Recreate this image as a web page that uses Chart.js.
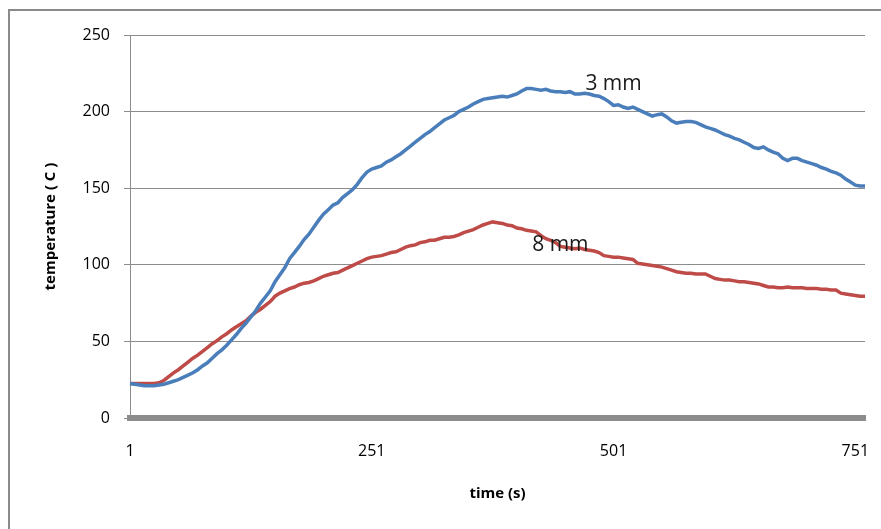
<!DOCTYPE html>
<html><head><meta charset="utf-8">
<script src="https://cdn.jsdelivr.net/npm/chart.js@4/dist/chart.umd.min.js"></script>
<style>html,body{margin:0;padding:0;background:#fff}#wrap{width:881px;height:529px}</style>
</head><body><div id="wrap"><canvas id="c" width="881" height="529"></canvas></div>
<script>
// time (s), sampled every 5 s
const times = [
  1,6,11,16,21,26,31,36,41,46,
  51,56,61,66,71,76,81,86,91,96,
  101,106,111,116,121,126,131,136,141,146,
  151,156,161,166,171,176,181,186,191,196,
  201,206,211,216,221,226,231,236,241,246,
  251,256,261,266,271,276,281,286,291,296,
  301,306,311,316,321,326,331,336,341,346,
  351,356,361,366,371,376,381,386,391,396,
  401,406,411,416,421,426,431,436,441,446,
  451,456,461,466,471,476,481,486,491,496,
  501,506,511,516,521,526,531,536,541,546,
  551,556,561,566,571,576,581,586,591,596,
  601,606,611,616,621,626,631,636,641,646,
  651,656,661,666,671,676,681,686,691,696,
  701,706,711,716,721,726,731,736,741,746,
  751,756,761
];
const tickLabels = [1, 251, 501, 751];

// temperature (C), 3 mm
const temp3mm = [
  22.5,22,21.5,21,21,21,21.5,22,23,24,
  25,26.5,28,29.5,31.5,34,36,39,42,44.5,
  47.5,51,54.5,58.5,62,66,70,75,79,83,
  89,93.5,98,104,108,112,116.5,120,124.5,129,
  133,136,139,140.5,144,146.5,149,152.5,157,160.5,
  162.5,163.5,164.5,167,168.5,170.5,172.5,175,177.5,180,
  182.5,185,187,189.5,192,194.5,196,197.5,200,201.5,
  203,205,206.5,208,208.5,209,209.5,210,209.5,210.5,
  211.5,213.5,215,215,214.5,214,214.5,213.5,213,213,
  212.5,213,211.5,211.5,212,211.5,210.5,210,208.5,206.5,
  204,204.5,203,202,203,201.5,200,198.5,197,198,
  198.5,196.5,194,192.5,193,193.5,193.5,193,191.5,190,
  189,188,186.5,185,184,182.5,181.5,180,178.5,176.5,
  176,177,175,173.5,172.5,169.5,168,169.5,169.5,168,
  167,166,165,163.5,162.5,161,160,158.5,156,154,
  152,151.5,151.5
];

// temperature (C), 8 mm
const temp8mm = [
  22.5,22.5,22.5,22.5,22.5,22.5,23,24.5,27,29.5,
  31.5,34,36.5,39,41,43.5,46,48.5,50.5,53,
  55,57.5,59.5,61.5,63.5,66.5,69,71,73.5,76,
  79.5,81.5,83,84.5,85.5,87,88,88.5,89.5,91,
  92.5,93.5,94.5,95,96.5,98,99.5,101,102.5,104,
  105,105.5,106,107,108,108.5,110,111.5,112.5,113,
  114.5,115,116,116,117,118,118,118.5,119.5,121,
  122,123,124.5,126,127,128,127.5,127,126,125.5,
  124,123.5,122.5,122,121.5,119,117,116,114.5,112,
  111.5,111,110.5,111,110,109.5,109,108,106,105.5,
  105,105,104.5,104,103.5,101,100.5,100,99.5,99,
  98.5,97.5,96.5,95.5,95,94.5,94.5,94,94,94,
  92.5,91,90.5,90,90,89.5,89,89,88.5,88,
  87.5,86.5,85.5,85.5,85,85,85.5,85,85,85,
  84.5,84.5,84.5,84,84,83.5,83.5,81.5,81,80.5,
  80,79.5,79.5
];

const seriesNames = ['3 mm', '8 mm'];
const labelTimes = [501, 446];
const labelTemps = [218, 113];

const framePlugin = {
  id: 'frame',
  beforeDraw(chart) {
    const c = chart.ctx;
    c.save();
    c.fillStyle = '#ffffff';
    c.fillRect(0, 0, chart.width, chart.height);
    c.strokeStyle = '#8a8a8a';
    c.lineWidth = 2;
    c.strokeRect(9, 10, 1000, 1000);
    c.restore();
  }
};

const seriesLabelPlugin = {
  id: 'seriesLabels',
  afterDatasetsDraw(chart) {
    const c = chart.ctx;
    const xs = chart.scales.x, ys = chart.scales.y;
    c.save();
    c.font = '21px "Open Sans"';
    c.fillStyle = '#1a1a1a';
    c.textAlign = 'center';
    c.textBaseline = 'middle';
    seriesNames.forEach((name, i) => {
      const idx = times.indexOf(labelTimes[i]);
      c.fillText(name, xs.getPixelForValue(idx), ys.getPixelForValue(labelTemps[i]));
    });
    c.restore();
  }
};

new Chart(document.getElementById('c'), {
  type: 'line',
  data: {
    labels: times,
    datasets: [
      { label: seriesNames[0], data: temp3mm, borderColor: '#4a7ebb', borderWidth: 3.5, pointRadius: 0, tension: 0, fill: false },
      { label: seriesNames[1], data: temp8mm, borderColor: '#be4b48', borderWidth: 3.5, pointRadius: 0, tension: 0, fill: false }
    ]
  },
  options: {
    responsive: false,
    animation: false,
    events: [],
    layout: { padding: { top: 35, right: 16, left: 0, bottom: 0 } },
    plugins: { legend: { display: false }, tooltip: { enabled: false } },
    scales: {
      x: {
        type: 'category',
        grid: { display: false, drawTicks: false },
        border: { display: true, color: '#8c8c8c', width: 6 },
        ticks: {
          autoSkip: false, maxRotation: 0, minRotation: 0, padding: 24,
          font: { family: 'Open Sans', size: 16 }, color: '#000',
          callback(v) { const l = this.getLabelForValue(v); return tickLabels.includes(l) ? String(l) : ''; }
        },
        title: { display: true, text: 'time (s)', color: '#000', font: { family: 'Open Sans', size: 15, weight: 'bold' }, padding: { top: 0, bottom: 26 } },
        afterFit(s) { s.height = 111; s.paddingLeft = 0; s.paddingRight = 0; }
      },
      y: {
        min: 0, max: 250,
        grid: { color: '#8c8c8c', lineWidth: 1, tickLength: 6, drawTicks: true },
        border: { display: true, color: '#8c8c8c', width: 1 },
        ticks: { stepSize: 50, padding: 14, font: { family: 'Open Sans', size: 16 }, color: '#000' },
        title: { display: true, text: 'temperature ( C )', color: '#000', font: { family: 'Open Sans', size: 15, weight: 'bold' }, padding: { top: 42, bottom: 0 } },
        afterFit(s) { s.width = 130; s.paddingTop = 0; s.paddingBottom = 0; }
      }
    }
  },
  plugins: [framePlugin, seriesLabelPlugin]
});
</script>
</body></html>
